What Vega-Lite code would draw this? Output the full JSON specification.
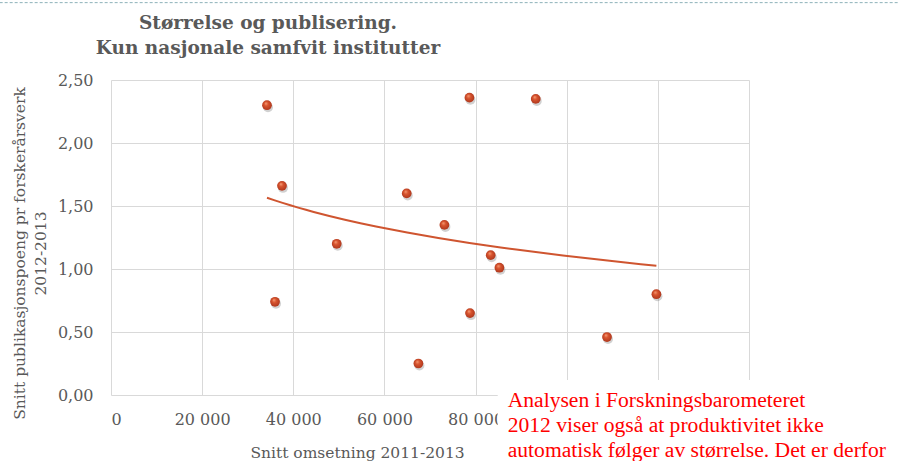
{
  "$schema": "https://vega.github.io/schema/vega-lite/v6.json",
  "autosize": {"type": "none"},
  "padding": {"left": 111, "top": 80, "right": 150, "bottom": 66},
  "width": 638,
  "height": 315,
  "background": "white",
  "config": {
    "locale": {"number": {"decimal": ",", "thousands": " ", "grouping": [3], "currency": ["", " kr"]}},
    "view": {"stroke": null},
    "axis": {
      "gridColor": "#d9d9d9",
      "gridWidth": 1,
      "domain": false,
      "ticks": false,
      "labelOverlap": false,
      "labelFont": "DejaVu Serif",
      "labelFontSize": 16,
      "labelColor": "#595959",
      "titleFont": "DejaVu Serif",
      "titleFontSize": 15.5,
      "titleFontWeight": "normal",
      "titleColor": "#595959"
    }
  },
  "title": {
    "text": ["Størrelse og publisering.", "Kun nasjonale samfvit institutter"],
    "font": "DejaVu Serif",
    "fontWeight": "bold",
    "fontSize": 18.5,
    "color": "#595959",
    "anchor": "middle",
    "frame": "group",
    "dx": -162,
    "offset": 0,
    "dy": 55,
    "lineHeight": 25
  },
  "layer": [
    {
      "data": {"name": "punkter"},
      "mark": {"type": "point", "filled": true, "size": 100, "color": "#7a7a7a", "opacity": 0.35, "xOffset": 1, "yOffset": 2},
      "encoding": {
        "x": {
          "field": "omsetning",
          "type": "quantitative",
          "scale": {"domain": [0, 140000], "nice": false},
          "axis": {
            "values": [0, 20000, 40000, 60000, 80000, 100000, 120000, 140000],
            "format": ",d",
            "labelExpr": "datum.value > 80000 ? '' : datum.label",
            "labelPadding": 16,
            "title": "Snitt omsetning 2011-2013",
            "titleX": 246,
            "titlePadding": 18
          }
        },
        "y": {
          "field": "poeng",
          "type": "quantitative",
          "scale": {"domain": [0, 2.5], "nice": false},
          "axis": {
            "values": [0, 0.5, 1, 1.5, 2, 2.5],
            "format": ".2f",
            "labelPadding": 18,
            "title": ["Snitt publikasjonspoeng pr forskerårsverk", "2012-2013"],
            "titleY": 173,
            "titlePadding": 9,
            "titleLineHeight": 21
          }
        }
      }
    },
    {
      "data": {"name": "punkter"},
      "mark": {
        "type": "point",
        "filled": true,
        "size": 95,
        "opacity": 1,
        "fill": {
          "gradient": "radial",
          "x1": 0.38, "y1": 0.3, "r1": 0,
          "x2": 0.5, "y2": 0.5, "r2": 0.6,
          "stops": [
            {"offset": 0, "color": "#f6a27c"},
            {"offset": 0.35, "color": "#d9552f"},
            {"offset": 1, "color": "#a5311a"}
          ]
        }
      },
      "encoding": {
        "x": {"field": "omsetning", "type": "quantitative"},
        "y": {"field": "poeng", "type": "quantitative"}
      }
    },
    {
      "data": {"name": "punkter"},
      "transform": [{"regression": "poeng", "on": "omsetning", "method": "log"}],
      "mark": {"type": "line", "color": "#cf5530", "strokeWidth": 2},
      "encoding": {
        "x": {"field": "omsetning", "type": "quantitative"},
        "y": {"field": "poeng", "type": "quantitative"}
      }
    },
    {
      "data": {"values": [{}]},
      "mark": {"type": "rect", "fill": "white", "stroke": null},
      "encoding": {
        "x": {"datum": 84860, "type": "quantitative"},
        "x2": {"datum": 180000},
        "y": {"datum": 0.119, "type": "quantitative"},
        "y2": {"datum": -0.6}
      }
    },
    {
      "data": {"values": [{}]},
      "mark": {
        "type": "text",
        "font": "Liberation Serif",
        "fontSize": 21.6,
        "color": "#ff0000",
        "align": "left",
        "baseline": "alphabetic",
        "lineHeight": 25
      },
      "encoding": {
        "x": {"datum": 87050, "type": "quantitative"},
        "y": {"datum": -0.093, "type": "quantitative"},
        "text": {"value": ["Analysen i Forskningsbarometeret", "2012 viser også at produktivitet ikke", "automatisk følger av størrelse. Det er derfor"]}
      }
    },
    {
      "data": {"values": [{}]},
      "mark": {"type": "rule", "color": "#8db2ba", "strokeWidth": 1, "strokeDash": [3, 2]},
      "encoding": {
        "x": {"datum": -24430, "type": "quantitative"},
        "x2": {"datum": 172850},
        "y": {"datum": 3.114, "type": "quantitative"}
      }
    }
  ],
  "datasets": {
    "punkter": [
      {"omsetning": 34230, "poeng": 2.30},
      {"omsetning": 37520, "poeng": 1.66},
      {"omsetning": 49530, "poeng": 1.20},
      {"omsetning": 35990, "poeng": 0.74},
      {"omsetning": 64890, "poeng": 1.60},
      {"omsetning": 73160, "poeng": 1.35},
      {"omsetning": 67450, "poeng": 0.25},
      {"omsetning": 78650, "poeng": 2.36},
      {"omsetning": 93200, "poeng": 2.35},
      {"omsetning": 83320, "poeng": 1.11},
      {"omsetning": 85230, "poeng": 1.01},
      {"omsetning": 78780, "poeng": 0.65},
      {"omsetning": 108840, "poeng": 0.46},
      {"omsetning": 119680, "poeng": 0.80}
    ]
  }
}
